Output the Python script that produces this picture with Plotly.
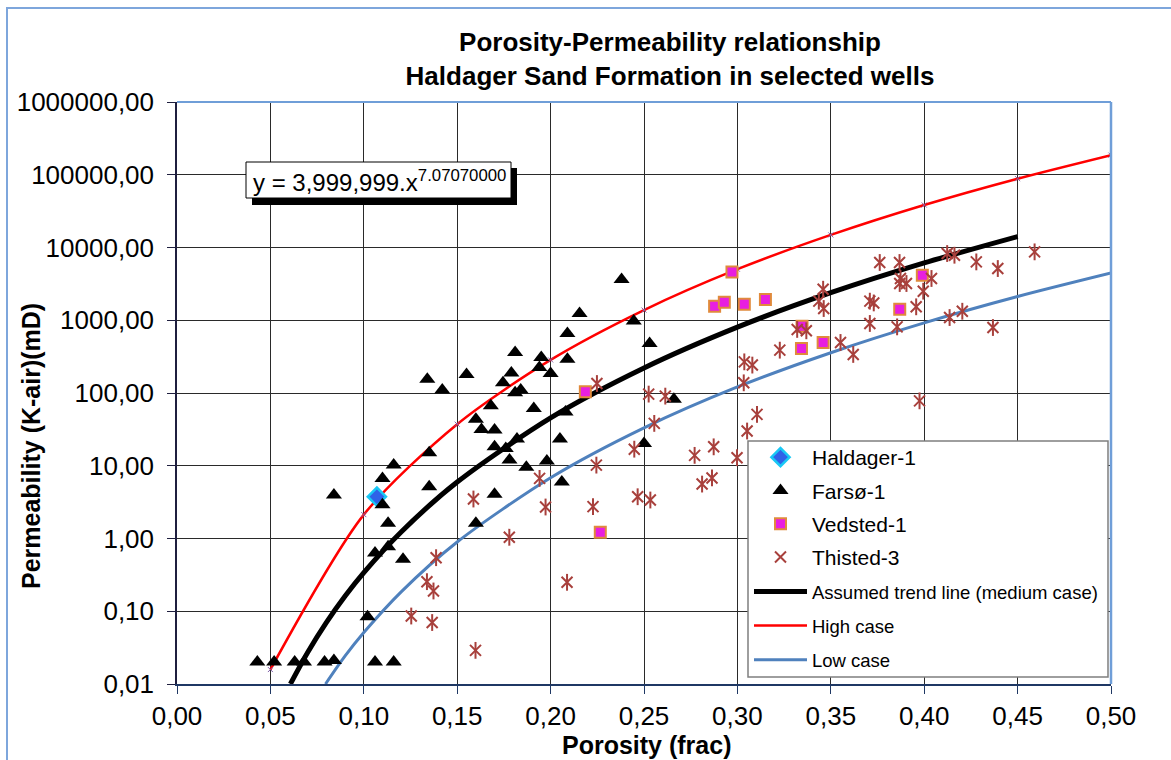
import plotly.graph_objects as go

# ---------------- data ----------------
x_tick_vals = [0.00, 0.05, 0.10, 0.15, 0.20, 0.25, 0.30, 0.35, 0.40, 0.45, 0.50]
x_tick_text = ["0,00", "0,05", "0,10", "0,15", "0,20", "0,25", "0,30", "0,35", "0,40", "0,45", "0,50"]
y_tick_vals = [0.01, 0.1, 1, 10, 100, 1000, 10000, 100000, 1000000]
y_tick_text = ["0,01", "0,10", "1,00", "10,00", "100,00", "1000,00", "10000,00", "100000,00", "1000000,00"]

haldager_x = [0.107]
haldager_y = [3.75]

farso_x = [0.043, 0.052, 0.063, 0.068, 0.079, 0.084, 0.106, 0.116,
           0.102, 0.084, 0.110, 0.116, 0.110, 0.113, 0.106, 0.113, 0.121,
           0.135, 0.135, 0.142, 0.134, 0.155, 0.168, 0.191, 0.160, 0.163,
           0.170, 0.170, 0.176, 0.182, 0.178, 0.187, 0.198, 0.205, 0.206,
           0.208, 0.170, 0.160, 0.250, 0.238, 0.2445, 0.253, 0.266,
           0.2155, 0.209, 0.181, 0.195, 0.209, 0.194, 0.179, 0.200, 0.1745,
           0.181, 0.184]
farso_y = [0.02, 0.02, 0.02, 0.02, 0.02, 0.021, 0.02, 0.02,
           0.084, 3.96, 6.7, 10.2, 2.9, 1.62, 0.63, 0.77, 0.52,
           15.1, 5.15, 110, 154, 180, 67, 61, 43.4, 31.6,
           31, 18.2, 17.3, 23.3, 12, 9.5, 11.6, 23.3, 6.0,
           55, 4.05, 1.62, 20.3, 3630, 973, 480, 82,
           1240, 659, 361, 308, 292, 225, 189, 186, 138,
           101, 110]

vedsted_x = [0.2266, 0.2186, 0.2971, 0.2878, 0.293, 0.3037, 0.315,
             0.3346, 0.3343, 0.3459, 0.3869, 0.399]
vedsted_y = [1.22, 104, 4620, 1560, 1770, 1660, 1930,
             830, 410, 495, 1420, 4160]

thisted_x = [0.1587, 0.1779, 0.1387, 0.1338, 0.1373, 0.1254, 0.1366, 0.1598,
             0.2088, 0.1941, 0.1973, 0.2227, 0.2245, 0.2448, 0.2466, 0.2534,
             0.2525, 0.2614, 0.2555, 0.2248,
             0.3762, 0.3868, 0.4123, 0.4162, 0.4279, 0.4394, 0.4591, 0.3873,
             0.3905, 0.3869, 0.4039, 0.3995, 0.3709, 0.373, 0.3957, 0.3709,
             0.3855, 0.4136, 0.4204, 0.4368, 0.3975, 0.3459, 0.3436, 0.3462,
             0.332, 0.3369, 0.3552, 0.362, 0.3227, 0.3037, 0.308, 0.3034,
             0.3105, 0.3052, 0.2873, 0.2771, 0.2998, 0.2811, 0.2864]
thisted_y = [3.49, 1.04, 0.545, 0.255, 0.19, 0.086, 0.07, 0.029,
             0.25, 6.7, 2.71, 2.74, 10.2, 16.9, 3.75, 3.38,
             96.6, 90.6, 38.2, 135,
             6220, 6220, 8260, 7830, 6340, 5140, 8710, 3750,
             3200, 3200, 3750, 2510, 1830, 1730, 1530, 903,
             811, 1090, 1330, 795, 78, 2670, 1830, 1450,
             748, 716, 495, 339, 388, 268, 242, 138,
             50.8, 30, 18.2, 13.9, 12.9, 5.6, 6.8]

trend_x = [0.0607, 0.07, 0.08, 0.09, 0.10, 0.12, 0.15, 0.20, 0.25, 0.30, 0.35, 0.40, 0.45]
trend_y = [0.01, 0.0273, 0.0702, 0.162, 0.340, 1.23, 5.97, 45.6, 221, 804, 2390, 6140, 14130]

high_x = [0.05, 0.10, 0.15, 0.20, 0.25, 0.30, 0.35, 0.40, 0.45, 0.50]
high_y = [0.0158, 2.13, 37.3, 285, 1380, 5030, 14900, 38400, 88300, 186000]

low_x = [0.0795, 0.09, 0.10, 0.12, 0.15, 0.20, 0.25, 0.30, 0.35, 0.40, 0.45, 0.50]
low_y = [0.01, 0.0243, 0.051, 0.185, 0.896, 6.84, 33.2, 121, 358, 921, 2120, 4460]

equation_text = "y = 3,999,999.x<sup>7.07070000</sup>"
title_text = "Porosity-Permeability relationship<br>Haldager Sand Formation in selected wells"

# ---------------- layout helpers ----------------
W, H = 1171, 760
ML, MR, MT, MB = 177, 60, 102, 76
PW, PH = W - ML - MR, H - MT - MB


def px2x(px):
    return (px - ML) / PW


def py2y(py):
    return (H - MB - py) / PH


FONT = "Arial, Liberation Sans, sans-serif"

fig = go.Figure()

# lines
fig.add_trace(go.Scatter(x=trend_x, y=trend_y, mode="lines", name="Assumed trend line (medium case)",
                         line=dict(color="black", width=5, shape="spline", smoothing=0.8),
                         legend="legend2", legendgroup="g5"))
fig.add_trace(go.Scatter(x=high_x, y=high_y, mode="lines", name="High case",
                         line=dict(color="#ff0000", width=2.5, shape="spline", smoothing=0.8),
                         legend="legend2", legendgroup="g6"))
fig.add_trace(go.Scatter(x=high_x, y=high_y, mode="markers", showlegend=False, hoverinfo="skip",
                         marker=dict(symbol="x-thin-open", size=5, color="#7f5fa8", line=dict(width=1))))
fig.add_trace(go.Scatter(x=low_x, y=low_y, mode="lines", name="Low case",
                         line=dict(color="#4f81bd", width=3, shape="spline", smoothing=0.8),
                         legend="legend2", legendgroup="g7"))

# markers
fig.add_trace(go.Scatter(x=haldager_x, y=haldager_y, mode="markers", name="Haldager-1",
                         marker=dict(symbol="diamond", size=14, color="#2f62e8",
                                     line=dict(color="#19c8f5", width=2.5)),
                         legend="legend", legendgroup="g1"))
fig.add_trace(go.Scatter(x=farso_x, y=farso_y, mode="markers", name="Farsø-1",
                         marker=dict(symbol="triangle-up", size=14, color="black",
                                     line=dict(color="black", width=0)),
                         legend="legend", legendgroup="g2"))
fig.add_trace(go.Scatter(x=vedsted_x, y=vedsted_y, mode="markers", name="Vedsted-1",
                         marker=dict(symbol="square", size=11, color="#e81ee0",
                                     line=dict(color="#e08a3c", width=2)),
                         legend="legend", legendgroup="g3"))
fig.add_trace(go.Scatter(x=thisted_x, y=thisted_y, mode="markers", name="Thisted-3",
                         marker=dict(symbol="x-thin-open", size=11, color="#a8403c",
                                     line=dict(width=2)),
                         legend="legend", legendgroup="g4"))
fig.add_trace(go.Scatter(x=thisted_x, y=thisted_y, mode="markers", showlegend=False,
                         marker=dict(symbol="line-ns-open", size=12, color="#a8403c",
                                     line=dict(width=2)),
                         legendgroup="g4"))

shapes = [
    # outer chart border (only top/left visible)
    dict(type="rect", xref="paper", yref="paper", x0=px2x(7), x1=px2x(1300), y0=py2y(900), y1=py2y(8),
         line=dict(color="#7ea6dc", width=2), fillcolor="rgba(0,0,0,0)", layer="below"),
    # plot area top and right border
    dict(type="line", xref="paper", yref="paper", x0=0, x1=1, y0=1, y1=1,
         line=dict(color="#6f9ed8", width=2), layer="above"),
    dict(type="line", xref="paper", yref="paper", x0=1, x1=1, y0=0, y1=1,
         line=dict(color="#6f9ed8", width=2.5), layer="above"),
    # equation label shadow and box
    dict(type="rect", xref="paper", yref="paper", x0=px2x(252), x1=px2x(517), y0=py2y(205), y1=py2y(168),
         fillcolor="black", line=dict(width=0), layer="above"),
    dict(type="rect", xref="paper", yref="paper", x0=px2x(246), x1=px2x(511), y0=py2y(198), y1=py2y(162),
         fillcolor="white", line=dict(color="black", width=1), layer="above"),
    # legend box
    dict(type="rect", xref="paper", yref="paper", x0=px2x(748), x1=px2x(1108), y0=py2y(677), y1=py2y(441),
         fillcolor="white", line=dict(color="#7f7f7f", width=1.5), layer="above"),
]

annotations = [
    dict(text=equation_text, xref="paper", yref="paper", x=px2x(251), y=py2y(181),
         xanchor="left", yanchor="middle", showarrow=False, font=dict(family=FONT, size=24, color="black")),
    dict(text="<b>Permeability (K-air)(mD)</b>", xref="paper", yref="paper", x=px2x(31), y=py2y(446),
         xanchor="center", yanchor="middle", textangle=-90, showarrow=False,
         font=dict(family=FONT, size=25, color="black")),
    dict(text="<b>Porosity (frac)</b>", xref="paper", yref="paper", x=px2x(646), y=py2y(745),
         xanchor="center", yanchor="middle", showarrow=False,
         font=dict(family=FONT, size=25, color="black")),
]

fig.update_layout(
    width=W, height=H,
    margin=dict(l=ML, r=MR, t=MT, b=MB, pad=0),
    paper_bgcolor="white", plot_bgcolor="white",
    font=dict(family=FONT, color="black"),
    title=dict(text="<b>" + title_text + "</b>", xref="container", yref="container",
               x=670 / W, y=1 - 51 / H, xanchor="center", yanchor="middle",
               font=dict(family=FONT, size=26, color="black")),
    xaxis=dict(range=[0, 0.5], tickvals=x_tick_vals, ticktext=x_tick_text,
               showgrid=True, gridcolor="#2a2a2a", gridwidth=1, zeroline=False,
               showline=True, linecolor="#1f3864", linewidth=2,
               ticks="outside", ticklen=8, tickcolor="#1f3864", tickwidth=1,
               tickfont=dict(family=FONT, size=26, color="black")),
    yaxis=dict(type="log", range=[-2, 6], tickvals=y_tick_vals, ticktext=y_tick_text,
               showgrid=True, gridcolor="#2a2a2a", gridwidth=1, zeroline=False,
               showline=True, linecolor="#1f1f3f", linewidth=1.5,
               ticks="outside", ticklen=8, tickcolor="#1f1f3f", tickwidth=1,
               ticklabelstandoff=8,
               tickfont=dict(family=FONT, size=26, color="black")),
    legend=dict(x=px2x(749), y=py2y(437), xanchor="left", yanchor="top",
                bgcolor="rgba(0,0,0,0)", borderwidth=0, traceorder="grouped",
                tracegroupgap=3, itemwidth=53,
                font=dict(family=FONT, size=21, color="black")),
    legend2=dict(x=px2x(749), y=py2y(573), xanchor="left", yanchor="top",
                 bgcolor="rgba(0,0,0,0)", borderwidth=0, traceorder="grouped",
                 tracegroupgap=7, itemwidth=53,
                 font=dict(family=FONT, size=18.5, color="black")),
    shapes=shapes,
    annotations=annotations,
    showlegend=True,
)

fig.write_html("out.html")
